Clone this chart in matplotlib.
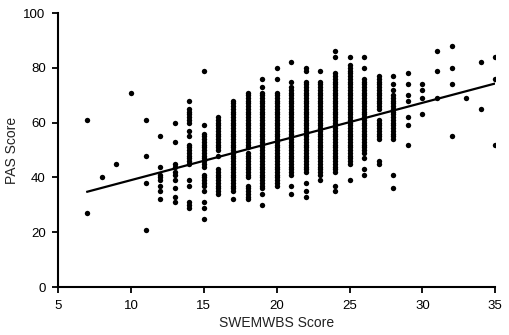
import matplotlib
matplotlib.use("Agg")
import matplotlib.pyplot as plt

plt.rcParams['font.family'] = ['Liberation Sans', 'DejaVu Sans']

# SWEMWBS score (x) and the PAS scores observed at each score
swemwbs = [7, 8, 9, 10, 11, 12, 13, 14, 15, 16, 17, 18, 19, 20, 21,
           22, 23, 24, 25, 26, 27, 28, 29, 30, 31, 32, 33, 34, 35]
pas = [
    [61, 27],
    [40],
    [45],
    [71],
    [61, 48, 38, 21],
    [55, 44, 41, 40, 39, 37, 35, 32],
    [60, 53, 45, 44, 42, 41, 39, 36, 33, 31],
    [68, 65, 64, 63, 62, 61, 60, 57, 55, 52, 51, 50, 49, 48, 47, 46, 45, 39, 37, 31, 30, 29],
    [79, 59, 56, 55, 54, 53, 52, 51, 50, 49, 48, 47, 46, 45, 44, 41, 40, 39, 38, 37, 35, 31, 29, 25],
    [62, 61, 60, 59, 58, 57, 56, 55, 54, 53, 52, 51, 50, 48, 43, 42, 41, 40, 39, 38, 37, 36, 35, 34],
    [68, 67, 66, 65, 64, 63, 62, 61, 60, 59, 58, 57, 56, 55, 54, 53, 52, 51, 50, 49, 48, 47, 46,
     45, 44, 43, 42, 41, 40, 39, 38, 37, 36, 35, 32],
    [71, 70, 69, 68, 67, 66, 65, 64, 63, 62, 61, 60, 59, 58, 57, 56, 55, 54, 53, 52, 51, 49, 48,
     47, 46, 45, 44, 43, 42, 41, 40, 37, 36, 35, 34, 33, 32],
    [76, 73, 71, 70, 69, 68, 67, 66, 65, 64, 63, 62, 61, 60, 59, 58, 57, 56, 55, 54, 53, 52, 51,
     50, 49, 48, 47, 46, 45, 44, 43, 42, 41, 40, 39, 38, 37, 36, 34, 30],
    [80, 76, 71, 70, 69, 68, 67, 66, 65, 64, 63, 62, 61, 60, 59, 58, 57, 56, 55, 54, 53, 52, 51,
     50, 49, 48, 47, 46, 45, 44, 43, 42, 41, 40, 39, 38, 37],
    [82, 75, 73, 72, 71, 70, 69, 68, 67, 66, 65, 64, 63, 62, 61, 60, 59, 58, 57, 56, 55, 54, 53,
     52, 51, 50, 49, 48, 47, 46, 45, 44, 43, 42, 41, 37, 34],
    [80, 79, 75, 74, 73, 72, 71, 70, 69, 68, 67, 66, 65, 64, 63, 62, 61, 60, 59, 58, 57, 56, 55,
     54, 53, 52, 51, 50, 49, 48, 47, 46, 45, 44, 43, 42, 38, 35, 33],
    [79, 75, 74, 73, 72, 71, 70, 69, 68, 67, 66, 65, 64, 63, 62, 61, 60, 59, 58, 57, 56, 55, 54,
     53, 52, 51, 50, 49, 48, 47, 46, 45, 44, 43, 42, 41, 39],
    [86, 84, 78, 77, 76, 75, 74, 73, 72, 71, 70, 69, 68, 67, 66, 65, 64, 63, 62, 61, 60, 59, 58,
     57, 56, 55, 54, 53, 52, 51, 50, 49, 48, 47, 46, 45, 44, 43, 42, 37, 35],
    [84, 81, 80, 79, 78, 77, 76, 75, 74, 73, 72, 71, 70, 69, 68, 67, 66, 65, 64, 63, 62, 61, 60,
     59, 58, 57, 56, 55, 54, 53, 52, 51, 50, 49, 48, 47, 46, 45, 39],
    [84, 80, 76, 75, 74, 73, 72, 71, 70, 69, 68, 67, 66, 65, 64, 63, 62, 61, 60, 59, 58, 57, 56,
     55, 54, 53, 52, 51, 50, 49, 47, 43, 41],
    [77, 76, 75, 74, 73, 72, 71, 70, 69, 68, 67, 66, 65, 61, 60, 59, 58, 57, 56, 55, 54, 46, 45],
    [77, 74, 72, 70, 69, 68, 67, 66, 65, 64, 63, 62, 61, 60, 59, 58, 57, 56, 55, 54, 41, 36],
    [78, 74, 70, 68, 62, 59, 52],
    [74, 72, 69, 63],
    [86, 79, 69],
    [88, 80, 74, 55],
    [69],
    [82, 65],
    [84, 76, 52],
]

# regression line end points
fit_x = [7, 35]
fit_y = [34.8, 74.3]

xs = []
ys = []
for x, vals in zip(swemwbs, pas):
    for v in vals:
        xs.append(x)
        ys.append(v)

fig = plt.figure(figsize=(5.1, 3.35), dpi=100)
ax = fig.add_axes([0.114, 0.143, 0.857, 0.818])

ax.scatter(xs, ys, s=15, color='black', linewidths=0, zorder=3)
ax.plot(fit_x, fit_y, color='black', linewidth=1.6, zorder=4)

ax.set_xlim(5, 35)
ax.set_ylim(0, 100)
ax.set_xticks(range(5, 36, 5))
ax.set_yticks(range(0, 101, 20))

for side in ['top', 'right']:
    ax.spines[side].set_visible(False)
for side in ['left', 'bottom']:
    ax.spines[side].set_linewidth(1.5)
ax.tick_params(direction='out', length=4, width=1.3, labelsize=9.5, colors='black')
ax.tick_params(axis='x', pad=5)
ax.tick_params(axis='y', pad=5)

ax.set_xlabel('SWEMWBS Score', fontsize=10, color='#222222', labelpad=3)
ax.set_ylabel('PAS Score', fontsize=10, color='#222222', labelpad=3)

fig.savefig('out.png', dpi=100)
